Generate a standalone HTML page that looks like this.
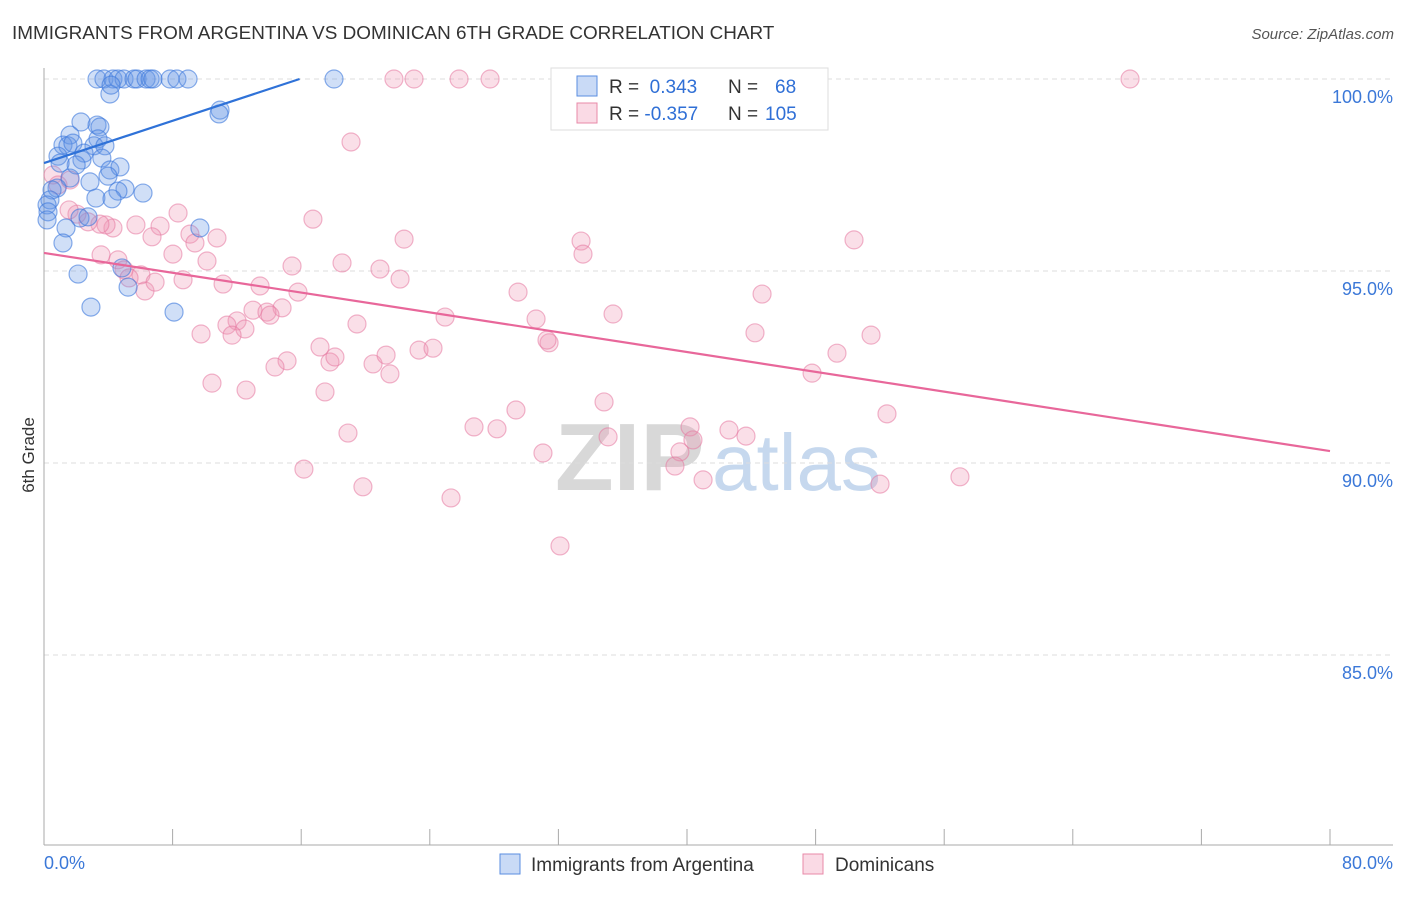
<!DOCTYPE html>
<html><head><meta charset="utf-8"><style>
body{margin:0;background:#fff;font-family:"Liberation Sans",sans-serif}
svg text{font-family:"Liberation Sans",sans-serif}
</style></head><body>
<svg id="chart" width="1406" height="892" xmlns="http://www.w3.org/2000/svg">
<text x="12" y="39" font-size="18.9" fill="#333">IMMIGRANTS FROM ARGENTINA VS DOMINICAN 6TH GRADE CORRELATION CHART</text>
<text x="1394" y="39" font-size="15" fill="#555" font-style="italic" text-anchor="end">Source: ZipAtlas.com</text>
<text transform="translate(34,455) rotate(-90)" font-size="17" fill="#333" text-anchor="middle">6th Grade</text>
<g><text x="555" y="490" font-size="96" fill="#d8d8d8" font-family="Liberation Serif" font-weight="bold">ZIP</text><text x="712" y="490" font-size="80" fill="#c6d8ee">atlas</text></g>
<g id="grid"></g><g id="axes"></g><g id="pts"></g><g id="trends"></g>
<g>
<rect x="551" y="68" width="277" height="62" fill="#fff" stroke="#ddd"/>
<rect x="577" y="76" width="20" height="20" fill="rgba(100,150,230,0.35)" stroke="#5a8ee0"/>
<rect x="577" y="103" width="20" height="20" fill="rgba(240,150,180,0.35)" stroke="#e889a8"/>
<text x="609" y="93" font-size="19" fill="#333">R = <tspan fill="#2f6fd6">&#160;0.343</tspan><tspan x="728">N = </tspan><tspan fill="#2f6fd6" x="775">68</tspan></text>
<text x="609" y="120" font-size="19" fill="#333">R = <tspan fill="#2f6fd6">-0.357</tspan><tspan x="728">N = </tspan><tspan fill="#2f6fd6" x="765">105</tspan></text>
</g>
<g>
<rect x="500" y="854" width="20" height="20" fill="rgba(100,150,230,0.35)" stroke="#5a8ee0"/>
<text x="531" y="871" font-size="19" fill="#333">Immigrants from Argentina</text>
<rect x="803" y="854" width="20" height="20" fill="rgba(240,150,180,0.35)" stroke="#e889a8"/>
<text x="835" y="871" font-size="19" fill="#333">Dominicans</text>
</g>
</svg>
<script>
const yTicks=[100,95,90,85];
const yTickLabels=["100.0%","95.0%","90.0%","85.0%"];
const xTickCount=10;
const xMin=0,xMax=80,yMin=80,yMax=100;
const blueX=[3.3,3.73,4.29,4.6,4.98,5.6,5.79,6.35,6.6,6.78,7.84,8.27,8.96,18.04,4.1,4.17,10.95,10.89,2.3,3.3,3.48,1.62,3.36,1.18,1.49,1.8,3.11,3.79,0.87,2.49,3.6,2.36,2.0,1.0,4.1,4.73,3.98,1.62,2.86,0.81,5.04,4.6,6.16,0.5,3.23,4.23,0.37,0.19,0.25,2.24,0.19,2.74,1.37,9.7,1.18,2.12,4.85,5.23,2.92,8.09];
const blueY=[100,100,100,100,100,100,100,100,100,100,100,100,100,100,99.61,99.84,99.19,99.09,98.88,98.8,98.75,98.54,98.44,98.28,98.26,98.33,98.26,98.26,97.99,98.07,97.94,97.89,97.76,97.81,97.63,97.71,97.47,97.42,97.32,97.16,97.14,97.08,97.03,97.11,96.9,96.88,96.85,96.72,96.54,96.38,96.33,96.41,96.12,96.12,95.73,94.92,95.08,94.58,94.06,93.93];
const pinkX=[32.41,21.77,23.02,25.82,27.75,45.35,67.56,19.10,16.73,22.40,33.41,33.53,50.39,8.34,5.72,7.22,9.08,10.76,6.72,4.29,3.86,3.48,2.74,2.05,1.56,0.56,0.87,1.62,9.39,8.02,10.14,3.55,4.60,4.98,6.03,5.29,6.28,6.91,8.65,11.14,13.44,15.43,15.80,18.54,20.90,22.15,29.49,44.67,14.81,13.00,12.01,11.38,12.50,13.87,14.06,9.77,11.70,19.47,24.95,30.61,35.40,44.23,51.45,17.17,15.12,14.37,17.79,18.10,20.47,21.28,21.52,23.33,24.20,31.42,31.29,49.33,47.78,10.45,12.57,17.48,34.84,29.36,52.44,18.91,26.75,28.18,35.09,40.19,40.37,42.61,43.67,31.04,39.56,39.25,16.17,41.00,52.01,56.98,19.84,25.32,32.10];
const pinkY=[100,100,100,100,100,100,100,98.36,96.35,95.83,95.78,95.44,95.81,96.51,96.20,96.17,95.96,95.86,95.89,96.12,96.20,96.22,96.28,96.48,96.59,97.50,97.24,97.37,95.73,95.44,95.26,95.42,95.29,95.03,94.90,94.82,94.48,94.71,94.77,94.66,94.61,95.13,94.45,95.21,95.05,94.79,94.45,94.40,94.04,93.98,93.70,93.59,93.49,93.93,93.85,93.36,93.33,93.62,93.80,93.75,93.88,93.39,93.33,93.02,92.66,92.50,92.63,92.76,92.58,92.81,92.32,92.94,92.99,93.13,93.20,92.86,92.34,92.08,91.90,91.85,91.59,91.38,91.28,90.78,90.94,90.89,90.68,90.94,90.60,90.86,90.70,90.26,90.29,89.92,89.84,89.56,89.45,89.64,89.38,89.09,87.84];
const blueTrendX=[0,15.9];
const blueTrendY=[97.81,100];
const pinkTrendX=[0,80];
const pinkTrendY=[95.47,90.31];
const L=44,R=1330;
function sx(v){return L+(v-xMin)/(xMax-xMin)*(R-L);}
function sy(v){return 79+(yMax-v)/5*192;}
const NS="http://www.w3.org/2000/svg";
function mk(tag,attrs,parent){const e=document.createElementNS(NS,tag);for(const k in attrs)e.setAttribute(k,attrs[k]);document.getElementById(parent).appendChild(e);return e;}
yTicks.forEach((t,i)=>{
 const g=mk('line',{x1:L,x2:1393,y1:sy(t),y2:sy(t),stroke:'#ddd','stroke-dasharray':'5,4'},'grid');
 
 
 const tx=mk('text',{x:1393,y:sy(t)+24,'font-size':18,fill:'#3b78d8','text-anchor':'end'},'axes');
 tx.textContent=yTickLabels[i];
 
 
});
const ya=mk('line',{x1:L,x2:L,y1:68,y2:845,stroke:'#aaa'},'axes');


const xa=mk('line',{x1:L,x2:1393,y1:845,y2:845,stroke:'#aaa'},'axes');


for(let i=1;i<=xTickCount;i++){
 const v=xMin+i*(xMax-xMin)/xTickCount;
 const tk=mk('line',{x1:sx(v),x2:sx(v),y1:829,y2:845,stroke:'#aaa'},'axes');
 
 
}
const x0=mk('text',{x:44,y:869,'font-size':18,fill:'#3b78d8'},'axes');x0.textContent='0.0%';


const x1=mk('text',{x:1393,y:869,'font-size':18,fill:'#3b78d8','text-anchor':'end'},'axes');x1.textContent='80.0%';


pinkX.forEach((x,i)=>{
 const c=mk('circle',{cx:sx(x),cy:sy(pinkY[i]),r:9,fill:'rgba(240,150,180,0.3)',stroke:'rgba(230,120,160,0.55)','stroke-width':1.2},'pts');
 
 
});
blueX.forEach((x,i)=>{
 const c=mk('circle',{cx:sx(x),cy:sy(blueY[i]),r:9,fill:'rgba(100,150,230,0.3)',stroke:'rgba(60,120,220,0.6)','stroke-width':1.2},'pts');
 
 
});
const bt=mk('line',{x1:sx(blueTrendX[0]),y1:sy(blueTrendY[0]),x2:sx(blueTrendX[1]),y2:sy(blueTrendY[1]),stroke:'#2f72d8','stroke-width':2.2},'trends');


const pt=mk('line',{x1:sx(pinkTrendX[0]),y1:sy(pinkTrendY[0]),x2:sx(pinkTrendX[1]),y2:sy(pinkTrendY[1]),stroke:'#e8679a','stroke-width':2.2},'trends');


</script>
</body></html>
